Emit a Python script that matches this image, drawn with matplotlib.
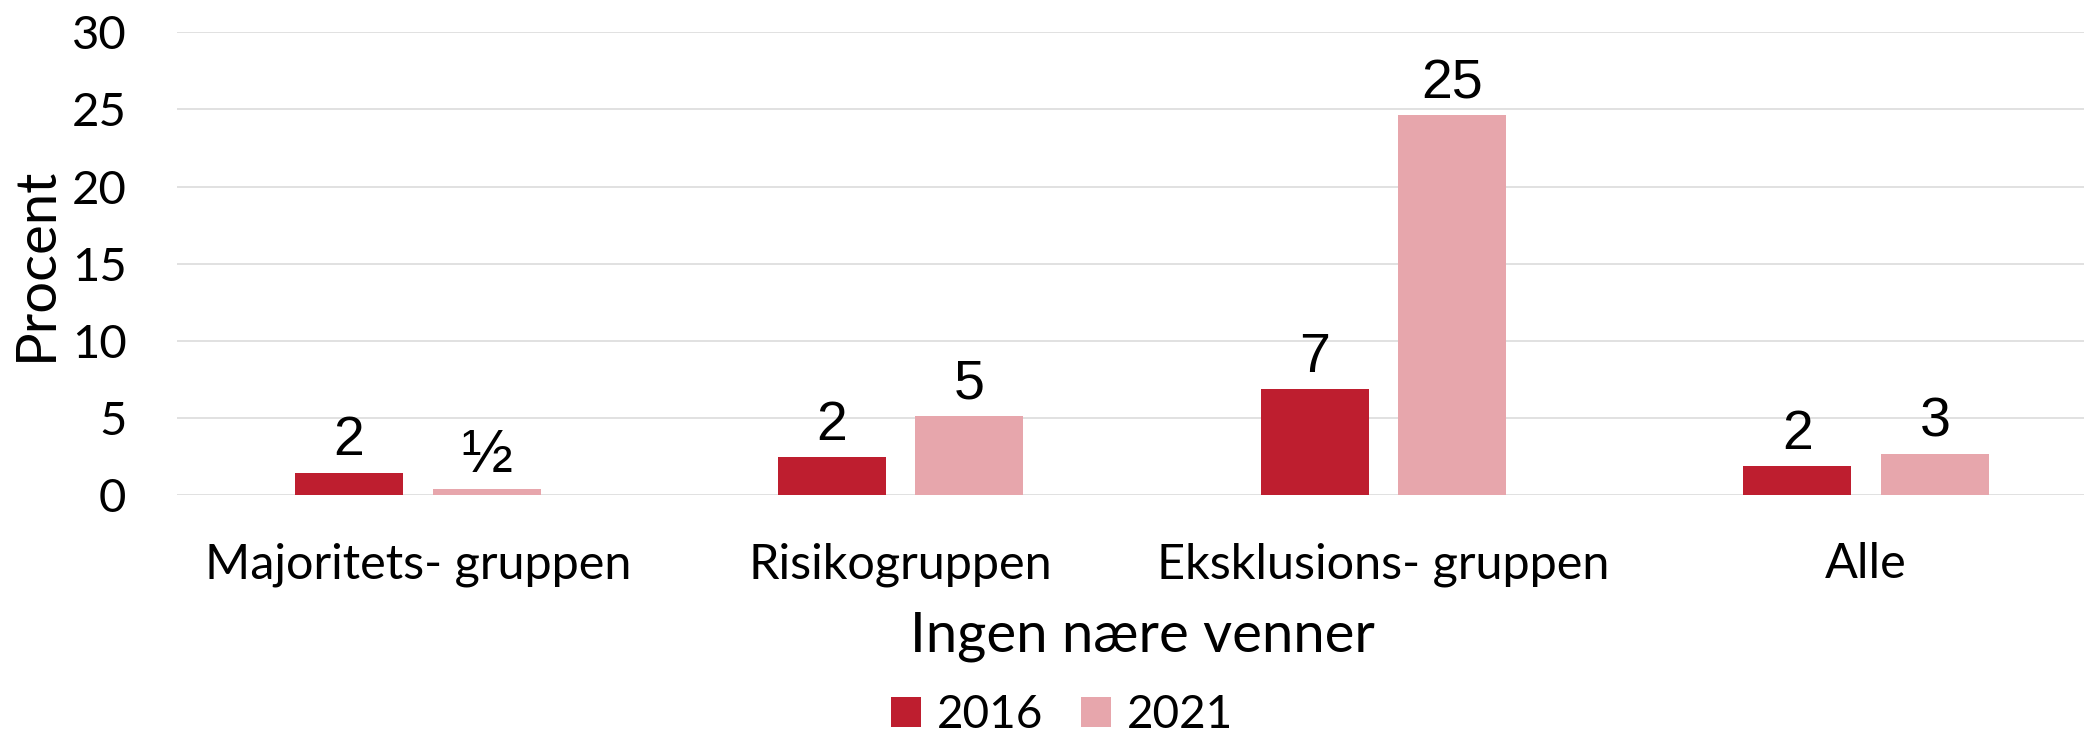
import matplotlib
matplotlib.use("Agg")
import matplotlib.pyplot as plt
from matplotlib.patches import Patch
import numpy as np

categories = ["Majoritets- gruppen", "Risikogruppen", "Eksklusions- gruppen", "Alle"]
series_names = ["2016", "2021"]
values_2016 = [1.45, 2.44, 6.85, 1.85]
values_2021 = [0.39, 5.12, 24.61, 2.67]
labels_2016 = ["2", "2", "7", "2"]
labels_2021 = ["\u00bd", "5", "25", "3"]
yticks = [0, 5, 10, 15, 20, 25, 30]
colors = ["#BE1E2F", "#E7A6AC"]

W, H, DPI = 2084, 736, 100
fig = plt.figure(figsize=(W / DPI, H / DPI), dpi=DPI)
FONT = "Lato"
LABFONT = "Liberation Sans"

# axes geometry in pixels
ax_l, ax_r, ax_t, ax_b = 176.5, 2107.5, 32.3, 495.0
ax = fig.add_axes([ax_l / W, 1 - ax_b / H, (ax_r - ax_l) / W, (ax_b - ax_t) / H])

x = np.arange(len(categories))
bw = 0.2237
off = 0.1426
b1 = ax.bar(x - off, values_2016, bw, color=colors[0], zorder=3)
b2 = ax.bar(x + off, values_2021, bw, color=colors[1], zorder=3)

for bars, labs in ((b1, labels_2016), (b2, labels_2021)):
    for rect, lab in zip(bars, labs):
        fs = 44 if lab == "\u00bd" else 40
        ax.annotate(lab, xy=(rect.get_x() + rect.get_width() / 2, rect.get_height()),
                    xytext=(0, 12.5), textcoords="offset points",
                    ha="center", va="baseline", fontsize=fs, family=LABFONT, color="black")

ax.set_xlim(-0.5, len(categories) - 0.5)
ax.set_ylim(0, 30)
ax.set_yticks(yticks)
ax.set_yticklabels([str(t) for t in yticks], fontsize=34, family=FONT)
ax.set_xticks(x)
ax.set_xticklabels(categories, fontsize=35, family=FONT)
ax.tick_params(axis="y", length=0, pad=36)
ax.tick_params(axis="x", length=0, pad=34)
ax.grid(axis="y", color="#D9D9D9", linewidth=1.1, zorder=0)
ax.set_axisbelow(True)
for s in ax.spines.values():
    s.set_visible(False)

ax.set_xlabel("Ingen nære venner", fontsize=40.5, family=FONT)
ax.xaxis.set_label_coords(0.5, -0.2500)
ax.xaxis.label.set_va("top")
ax.set_ylabel("Procent", fontsize=40.5, family=FONT)
ax.yaxis.set_label_coords((62 - ax_l) / (ax_r - ax_l), 0.50)

handles = [Patch(facecolor=c, edgecolor="none") for c in colors]
fs_leg = 33
em = fs_leg * DPI / 72
fig.legend(handles, series_names, loc="center", bbox_to_anchor=(1062 / W, 1 - 715 / H),
           ncol=2, frameon=False, prop={"family": FONT, "size": fs_leg},
           handlelength=30 / em, handleheight=30 / em, handletextpad=16 / em,
           columnspacing=38 / em, borderpad=0, borderaxespad=0)

fig.savefig("out.png", dpi=DPI, facecolor="white")
